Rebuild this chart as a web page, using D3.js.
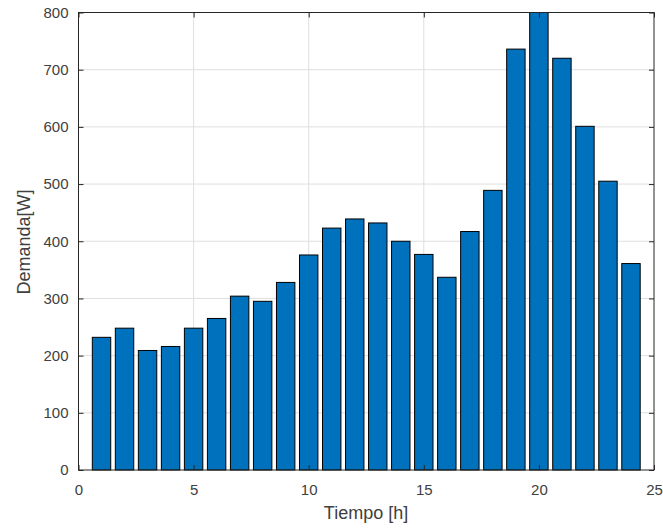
<!DOCTYPE html>
<html><head><meta charset="utf-8">
<script src="https://cdn.jsdelivr.net/npm/d3@7"></script>
<style>body{margin:0;background:#fff}svg{display:block}text{font-family:"Liberation Sans",Arial,Helvetica,sans-serif}</style>
</head><body>
<svg id="c" width="663" height="531"></svg>
<script>
const hours = d3.range(1, 25);
const demand = [232, 248, 209, 216, 248, 265, 304, 295, 328, 376, 423, 439, 432, 400, 377, 337, 417, 489, 736, 800, 720, 601, 505, 361];
const xTicks = [0, 5, 10, 15, 20, 25];
const yTicks = [0, 100, 200, 300, 400, 500, 600, 700, 800];
const xLabel = "Tiempo [h]";
const yLabel = "Demanda[W]";

const svg = d3.select("#c");
const L = 78.5, R = 654, T = 12.5, B = 470;
const x = d3.scaleLinear().domain([0, 25]).range([L, R]);
const y = d3.scaleLinear().domain([0, 800]).range([B, T]);
const axisCol = "#262626";
const textCol = "#404040";

// grid
const g = svg.append("g");
g.selectAll(".gx").data(xTicks.slice(1, -1)).join("line")
  .attr("x1", d => x(d)).attr("x2", d => x(d)).attr("y1", T).attr("y2", B)
  .attr("stroke", "#dfdfdf").attr("stroke-width", 1);
g.selectAll(".gy").data(yTicks.slice(1, -1)).join("line")
  .attr("y1", d => y(d)).attr("y2", d => y(d)).attr("x1", L).attr("x2", R)
  .attr("stroke", "#dfdfdf").attr("stroke-width", 1);

// bars
const bw = (x(1) - x(0)) * 0.8;
svg.append("g").selectAll("rect").data(hours).join("rect")
  .attr("x", (d) => x(d) - bw / 2)
  .attr("width", bw)
  .attr("y", (d, i) => y(demand[i]))
  .attr("height", (d, i) => y(0) - y(demand[i]))
  .attr("fill", "#0072BD").attr("stroke", "#000").attr("stroke-width", 1);

// axes
const xa = d3.axisBottom(x).tickValues(xTicks).tickSize(-5).tickPadding(14);
const ya = d3.axisLeft(y).tickValues(yTicks).tickSize(-5).tickPadding(10);
const xT = d3.axisTop(x).tickValues(xTicks).tickSize(-5).tickFormat("");
const yR = d3.axisRight(y).tickValues(yTicks).tickSize(-5).tickFormat("");
function style(sel) {
  sel.select(".domain").attr("stroke", axisCol).attr("stroke-width", 1);
  sel.selectAll(".tick line").attr("stroke", axisCol);
  sel.selectAll(".tick text").attr("fill", textCol).style("font-size", "15px").style("font-family", '"Liberation Sans",Arial,sans-serif');
}
svg.append("g").attr("transform", `translate(0,${B})`).call(xa).call(style);
svg.append("g").attr("transform", `translate(${L},0)`).call(ya).call(style);
svg.append("g").attr("transform", `translate(0,${T})`).call(xT).call(style);
svg.append("g").attr("transform", `translate(${R},0)`).call(yR).call(style);
svg.selectAll(".domain").attr("d", null);
svg.append("rect").attr("x", L).attr("y", T).attr("width", R - L).attr("height", B - T)
  .attr("fill", "none").attr("stroke", axisCol).attr("stroke-width", 1);

svg.append("text").attr("x", 366).attr("y", 519).attr("text-anchor", "middle")
  .attr("fill", textCol).style("font-size", "18px").text(xLabel);
svg.append("text").attr("transform", `translate(30,242) rotate(-90)`).attr("text-anchor", "middle")
  .attr("fill", textCol).style("font-size", "18px").text(yLabel);
</script>
</body></html>
